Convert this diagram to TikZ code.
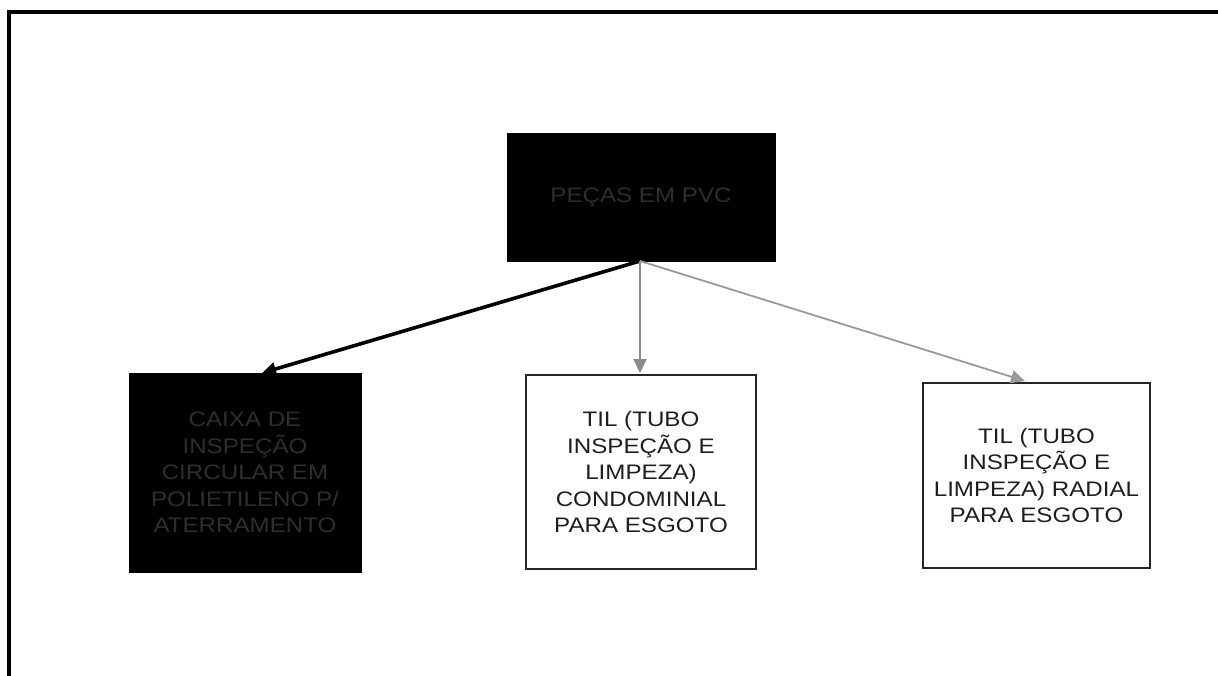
\documentclass[tikz,border=0pt]{standalone}
\usepackage{fontspec}
\setmainfont{Liberation Sans}[FakeStretch=1.15]
\usetikzlibrary{arrows.meta}
\definecolor{darktxt}{HTML}{2E2E2E}
\definecolor{boxtxt}{HTML}{1E1E1E}
\definecolor{grayarrow}{HTML}{8A8A8A}
\definecolor{lightarrow}{HTML}{9A9A9A}
\tikzset{
  darkbox/.style={draw=black, fill=black, text=darktxt, align=center, inner sep=0pt,
    font=\fontsize{21}{26.5}\selectfont},
  lightbox/.style={draw=black!85, line width=2.6pt, fill=white, text=boxtxt, align=center, inner sep=0pt,
    font=\fontsize{21}{26.5}\selectfont},
  conn/.style={-{Triangle[length=14pt,width=13pt]}},
}
\begin{document}
\begin{tikzpicture}[x=1pt,y=-1pt]
\useasboundingbox (0,0) rectangle (1218,675);
\fill[white] (0,0) rectangle (1218,675);
% outer frame (top and left visible)
\begin{scope}
\clip (0,0) rectangle (1218,675);
\draw[line width=4pt, black] (1240,12) -- (9,12) -- (9,700);
\end{scope}
% boxes
\node[darkbox, minimum width=268pt, minimum height=128pt] (top) at (641,197) {PEÇAS EM PVC};
\node[darkbox, minimum width=232pt, minimum height=199pt] (caixa) at (245,472.5)
  {CAIXA DE\\INSPEÇÃO\\CIRCULAR EM\\POLIETILENO P/\\ATERRAMENTO};
\node[lightbox, minimum width=230pt, minimum height=194pt] (cond) at (641,472)
  {TIL (TUBO\\INSPEÇÃO E\\LIMPEZA)\\CONDOMINIAL\\PARA ESGOTO};
\node[lightbox, minimum width=227pt, minimum height=185pt] (radial) at (1036.5,475.5)
  {TIL (TUBO\\INSPEÇÃO E\\LIMPEZA) RADIAL\\PARA ESGOTO};
% connectors
\coordinate (src) at (640,261);
\coordinate (tl) at (262,373);
\coordinate (tm) at (640,373);
\coordinate (tr) at (1025,381);
\draw[conn, line width=3.6pt, black] (src) -- (tl);
\draw[conn, line width=2pt, grayarrow] (src) -- (tm);
\draw[conn, line width=1.8pt, lightarrow] (src) -- (tr);
\end{tikzpicture}
\end{document}
